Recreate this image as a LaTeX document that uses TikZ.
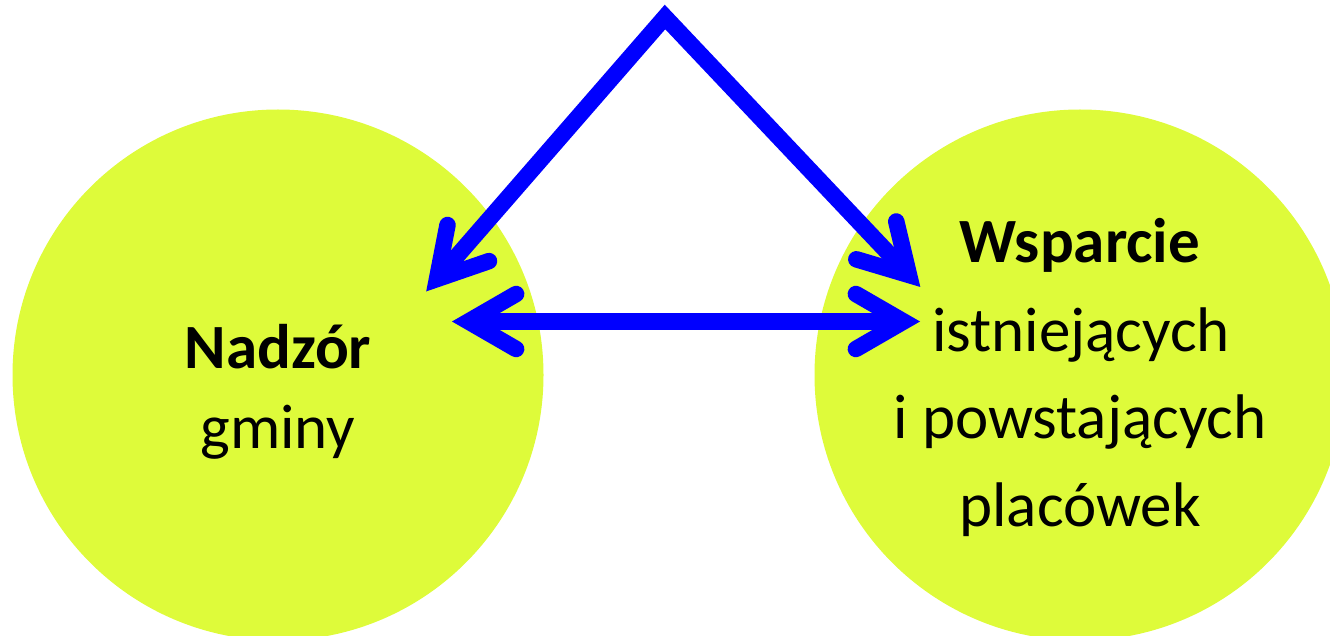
\documentclass[tikz,border=0pt]{standalone}
\usepackage{fontspec}
\setmainfont{Carlito}
\usetikzlibrary{calc}
\definecolor{blobfill}{RGB}{222,251,58}
\definecolor{arrowblue}{RGB}{0,0,255}
\begin{document}
\begin{tikzpicture}[x=1pt,y=-1pt,
  blob/.style={circle, fill=blobfill, draw=none, minimum size=531pt, inner sep=0pt},
  txt/.style={anchor=base, inner sep=0pt, font=\fontsize{63}{76}\selectfont},
  txtb/.style={anchor=base, inner sep=0pt, font=\fontsize{63}{76}\selectfont\bfseries},
  shaft/.style={draw=arrowblue, line width=16.5pt, line join=miter},
  vhead/.style={draw=arrowblue, line width=16.5pt, line cap=round, line join=miter}]
\clip (0,0) rectangle (1330,636);
% circles
\node[blob] (leftc) at (278,375) {};
\node[blob] (rightc) at (1080,375) {};
% connector points
\coordinate (apex) at (665,17);
\coordinate (L) at (437,279);
\coordinate (R) at (909,275);
\coordinate (HL) at (468.5,321.5);
\coordinate (HR) at (903.5,321.5);
% shafts
\draw[shaft] (L) -- (apex) -- (R);
\draw[shaft] (HL) -- (HR);
% heads
\draw[vhead] ($(L)+(-79:55)$) -- (L) -- ($(L)+(-19:55)$);
\draw[vhead] ($(R)+(-103.4:55)$) -- (R) -- ($(R)+(-163.4:55)$);
\draw[vhead] ($(HL)+(-30:55)$) -- (HL) -- ($(HL)+(30:55)$);
\draw[vhead] ($(HR)+(-150:55)$) -- (HR) -- ($(HR)+(150:55)$);
% texts
\node[txtb] (nadzor) at (278,368) {Nadzór};
\node[txt] (gminy) at (278,448) {gminy};
\node[txtb] (wsparcie) at (1080,263) {Wsparcie};
\node[txt] (istn) at (1081,351) {istniejących};
\node[txt] (powst) at (1080,438) {i powstających};
\node[txt] (plac) at (1080,526) {placówek};
\end{tikzpicture}
\end{document}
